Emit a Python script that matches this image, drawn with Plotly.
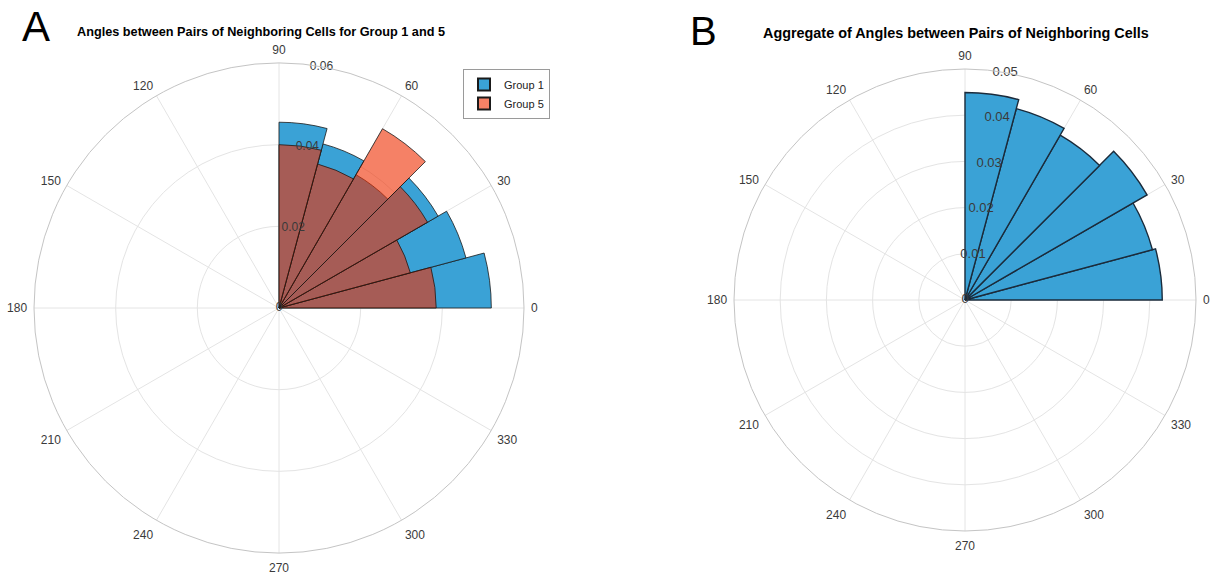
import plotly.graph_objects as go

# Bin centres (degrees) of the 15-degree angle bins
bin_centers = [7.5, 22.5, 37.5, 52.5, 67.5, 82.5]
bin_width = 15

# Panel A: probability per bin for two groups
group1_prob = [0.0520, 0.0474, 0.0450, 0.0377, 0.0416, 0.0455]
group5_prob = [0.0385, 0.0333, 0.0420, 0.0507, 0.0365, 0.0400]

# Panel B: aggregate probability per bin
aggregate_prob = [0.0427, 0.0420, 0.0455, 0.0412, 0.0429, 0.0449]

# Axis ticks
angle_ticks = [0, 30, 60, 90, 120, 150, 180, 210, 240, 270, 300, 330]
radial_ticks_a = [0, 0.02, 0.04, 0.06]
radial_ticks_b = [0, 0.01, 0.02, 0.03, 0.04, 0.05]

BLUE = "rgb(58,162,214)"
RED = "rgba(238,45,0,0.6)"
GRID = "#e4e4e4"
RING = "#c4c4c4"
FONT = "Liberation Sans, Arial, sans-serif"

fig = go.Figure()

fig.add_trace(go.Barpolar(
    r=group1_prob, theta=bin_centers, width=[bin_width] * len(bin_centers),
    marker=dict(color=BLUE, line=dict(color="#1a1a1a", width=0.8)),
    name="Group 1", subplot="polar",
))
fig.add_trace(go.Barpolar(
    r=group5_prob, theta=bin_centers, width=[bin_width] * len(bin_centers),
    marker=dict(color=RED, line=dict(color="#1a1a1a", width=0.8)),
    name="Group 5", subplot="polar",
))
fig.add_trace(go.Barpolar(
    r=aggregate_prob, theta=bin_centers, width=[bin_width] * len(bin_centers),
    marker=dict(color=BLUE, line=dict(color="#1b2b3b", width=1.4)),
    name="Aggregate", subplot="polar2", showlegend=False,
))

# Radial tick labels placed along the 80-degree spoke
def radial_labels(ticks, subplot, size):
    return go.Scatterpolar(
        r=ticks, theta=[80] * len(ticks), mode="text",
        text=[("%g" % t) for t in ticks],
        textfont=dict(family=FONT, size=size, color="#3a3a3a"),
        subplot=subplot, showlegend=False, cliponaxis=False, hoverinfo="skip",
    )

fig.add_trace(radial_labels(radial_ticks_a, "polar", 12))
fig.add_trace(radial_labels(radial_ticks_b, "polar2", 13))

W, H = 1219, 575

def polar_layout(cx, cy, rad, rmax, ticks):
    return dict(
        domain=dict(x=[(cx - rad) / W, (cx + rad) / W],
                    y=[1 - (cy + rad) / H, 1 - (cy - rad) / H]),
        bgcolor="white",
        barmode="overlay",
        radialaxis=dict(range=[0, rmax], tickvals=ticks[1:], showticklabels=False,
                        ticks="", showline=False, gridcolor=GRID, gridwidth=1, angle=80),
        angularaxis=dict(direction="counterclockwise", rotation=0,
                         tickvals=angle_ticks, ticktext=[str(a) for a in angle_ticks],
                         ticks="outside", ticklen=4, tickcolor="rgba(0,0,0,0)",
                         showline=True, linecolor=RING, linewidth=1,
                         gridcolor=GRID, gridwidth=1,
                         tickfont=dict(family=FONT, size=12, color="#3a3a3a")),
    )

def label(text, x, y, size, color="black"):
    return dict(text=text, x=x / W, y=1 - y / H, xref="paper", yref="paper",
                xanchor="center", yanchor="middle", showarrow=False,
                font=dict(family=FONT, size=size, color=color))

fig.update_layout(
    width=W, height=H,
    margin=dict(l=0, r=0, t=0, b=0),
    paper_bgcolor="white",
    font=dict(family=FONT, color="#222"),
    polar=polar_layout(279, 308, 245, 0.06, radial_ticks_a),
    polar2=polar_layout(965, 300, 231, 0.05, radial_ticks_b),
    legend=dict(x=463 / W, y=1 - 69 / H, xanchor="left", yanchor="top",
                bgcolor="white", bordercolor="#9a9a9a", borderwidth=1,
                font=dict(family=FONT, size=11, color="#222"),
                itemsizing="constant", tracegroupgap=0),
    showlegend=True,
    annotations=[
        label("A", 36, 26, 42),
        label("B", 703, 31, 40),
        label("<b>Angles between Pairs of Neighboring Cells for Group 1 and 5</b>", 261, 32, 12.7),
        label("<b>Aggregate of Angles between Pairs of Neighboring Cells</b>", 956, 33, 14.4),
    ],
)

fig.write_html("out.html")
